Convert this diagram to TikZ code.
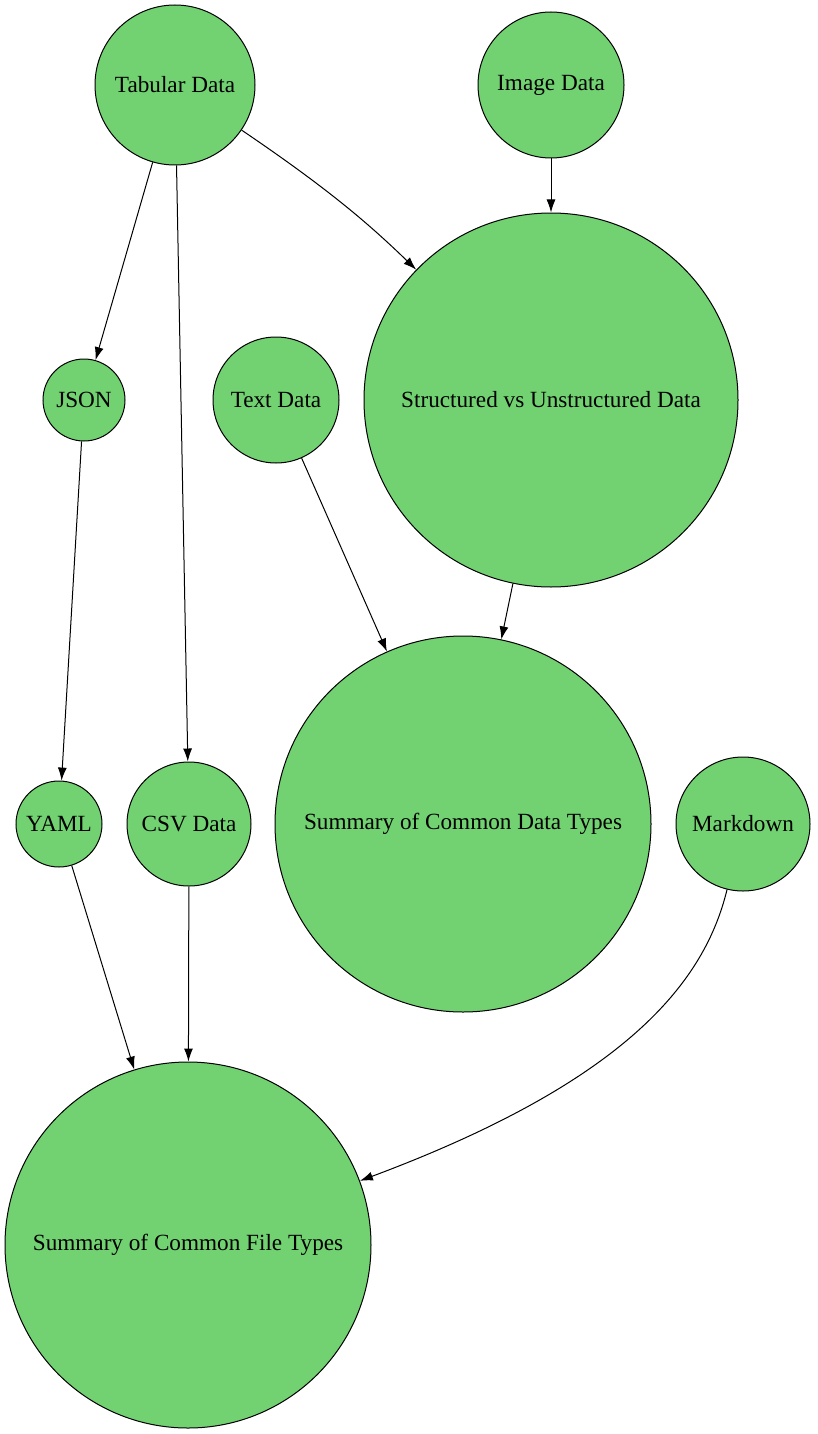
\documentclass[tikz,border=0pt]{standalone}
\usepackage{fontspec}
\setmainfont{Liberation Serif}
\usetikzlibrary{arrows.meta}
\definecolor{nodegreen}{RGB}{114,210,114}
\begin{document}
\begin{tikzpicture}[x=1pt,y=-1pt,
  circ/.style={circle,draw=black,fill=nodegreen,line width=1pt,inner sep=0pt,font=\fontsize{23.2}{27}\selectfont},
  edge/.style={line width=1pt,-{Latex[length=13pt,width=9pt]}}]
\useasboundingbox (0,0) rectangle (817,1434);
\node[circ,minimum size=160] (tab) at (175,85) {Tabular Data};
\node[circ,minimum size=146] (img) at (551,85) {Image Data};
\node[circ,minimum size=82] (json) at (84,400) {JSON};
\node[circ,minimum size=126] (text) at (276,400) {Text Data};
\node[circ,minimum size=374] (struct) at (551,400) {Structured vs Unstructured Data};
\node[circ,minimum size=86] (yaml) at (59,824) {YAML};
\node[circ,minimum size=124] (csv) at (189,824) {CSV Data};
\node[circ,minimum size=376] (dtypes) at (463,824) {Summary of Common Data Types};
\node[circ,minimum size=134] (md) at (743,824) {Markdown};
\node[circ,minimum size=366] (ftypes) at (188,1245) {Summary of Common File Types};
\draw[edge] (tab) -- (json);
\draw[edge] (tab) -- (csv);
\draw[edge] (tab) .. controls (330,190) and (370,225) .. (struct);
\draw[edge] (img) -- (struct);
\draw[edge] (json) -- (yaml);
\draw[edge] (text) -- (dtypes);
\draw[edge] (struct) -- (dtypes);
\draw[edge] (yaml) -- (ftypes);
\draw[edge] (csv) -- (ftypes);
\draw[edge] (md) .. controls (705,980) and (630,1080) .. (ftypes);
\end{tikzpicture}
\end{document}
